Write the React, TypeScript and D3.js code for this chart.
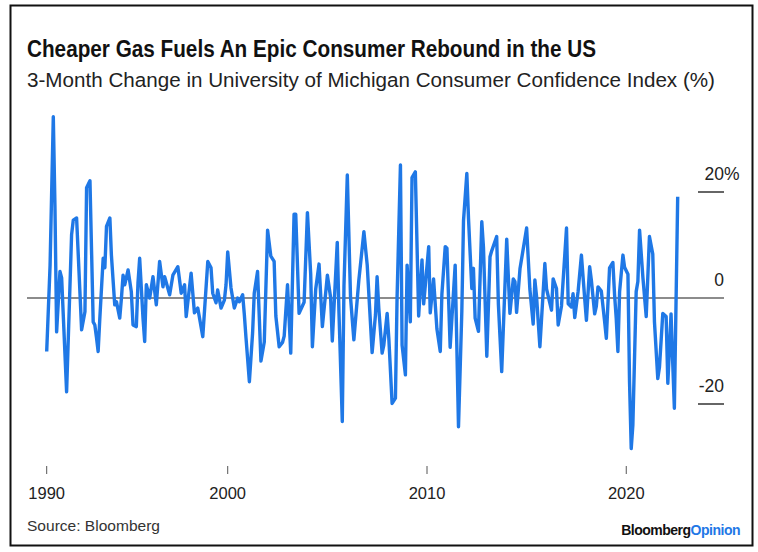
import React from "react";
import * as d3 from "d3";

const months = [
  "1990-12","1991-02","1991-04","1991-05","1991-06","1991-08","1991-09","1991-12",
  "1992-03","1992-04","1992-06","1992-09","1992-11","1992-12","1993-02","1993-04",
  "1993-05","1993-06","1993-07","1993-08","1993-10","1993-11","1993-12","1994-02",
  "1994-03","1994-05","1994-06","1994-08","1994-09","1994-10","1994-11","1995-01",
  "1995-03","1995-04","1995-06","1995-07","1995-08","1995-10","1995-11","1995-12",
  "1996-02","1996-04","1996-06","1996-08","1996-10","1996-11","1997-02","1997-04",
  "1997-07","1997-09","1997-11","1997-12","1998-03","1998-05","1998-07","1998-10",
  "1999-01","1999-03","1999-04","1999-06","1999-07","1999-09","1999-11","1999-12",
  "2000-01","2000-03","2000-05","2000-07","2000-08","2000-10","2000-11","2000-12",
  "2001-02","2001-04","2001-05","2001-07","2001-09","2001-11","2002-01","2002-03",
  "2002-05","2002-06","2002-08","2002-10","2002-11","2003-01","2003-03","2003-05",
  "2003-06","2003-08","2003-11","2004-01","2004-03","2004-04","2004-06","2004-08",
  "2004-10","2005-01","2005-03","2005-04","2005-07","2005-08","2005-10","2005-11",
  "2006-01","2006-03","2006-05","2006-08","2006-11","2007-01","2007-04","2007-06",
  "2007-07","2007-08","2007-10","2007-11","2008-01","2008-02","2008-04","2008-06",
  "2008-07","2008-09","2008-10","2008-12","2009-01","2009-03","2009-04","2009-06",
  "2009-08","2009-10","2009-11","2010-02","2010-03","2010-05","2010-07","2010-09",
  "2010-10","2010-12","2011-01","2011-03","2011-06","2011-08","2011-10","2011-11",
  "2012-01","2012-02","2012-04","2012-05","2012-06","2012-08","2012-10","2012-11",
  "2013-01","2013-03","2013-04","2013-07","2013-08","2013-10","2014-01","2014-02",
  "2014-03","2014-05","2014-06","2014-07","2014-09","2015-01","2015-03","2015-05",
  "2015-06","2015-07","2015-09","2015-12","2016-01","2016-04","2016-05","2016-07",
  "2016-08","2016-10","2017-01","2017-02","2017-04","2017-05","2017-06","2017-08",
  "2017-10","2017-12","2018-01","2018-03","2018-04","2018-06","2018-07","2018-08",
  "2018-10","2018-12","2019-01","2019-03","2019-05","2019-06","2019-07","2019-08",
  "2019-09","2019-11","2019-12","2020-02","2020-03","2020-04","2020-05","2020-07",
  "2020-08","2020-09","2020-11","2021-01","2021-03","2021-05","2021-06","2021-08",
  "2021-09","2021-11","2022-01","2022-02","2022-04","2022-05","2022-06","2022-08",
];

const changes = [
  -10.1, 6.2, 34.2, 17.5, -6.4, 5.0, 3.8, -17.7,
  11.9, 14.7, 15.1, -6.0, -2.6, 20.8, 22.1, -4.5,
  -5.1, -7.5, -10.1, -3.8, 7.5, 5.7, 13.5, 15.1,
  8.1, -1.3, -0.7, -3.8, 0.0, 4.3, 2.5, 5.3,
  1.2, -5.1, -5.4, 2.8, 7.5, -3.8, -8.2, 2.5,
  0.0, 4.0, -1.3, 6.9, 2.1, 4.0, 0.6, 4.3,
  5.9, 0.9, 2.5, -3.5, 4.7, -2.8, -1.9, -7.3,
  6.9, 5.7, 0.9, -0.9, 1.5, -1.9, -0.4, 2.5,
  8.7, 1.9, -1.9, 0.0, -0.7, 0.6, -3.2, -7.5,
  -15.8, -6.6, 0.9, 5.0, -11.9, -8.3, 12.8, 7.9,
  6.9, -3.4, -9.2, -8.4, -7.2, 2.5, -10.4, 15.8,
  15.8, -2.9, -0.8, 16.1, 4.5, -9.2, 1.7, 6.4,
  -5.4, 4.3, 0.1, -8.1, 10.5, -2.7, -23.3, 2.3,
  23.2, 0.1, -7.9, 3.4, 12.5, 6.2, -10.3, -3.2,
  4.0, -1.9, -10.4, -8.9, -2.9, -7.6, -19.9, -18.9,
  0.0, 25.1, -8.9, -14.5, 6.2, -4.5, 22.7, 23.8,
  -3.4, 7.2, -1.1, 9.7, -2.8, 3.6, -5.8, -10.1,
  0.8, 9.7, 9.4, -9.3, 6.2, -24.3, -2.6, 14.6,
  23.5, 14.9, 1.8, 5.6, -3.8, -6.3, 14.4, 9.5,
  -11.0, 7.8, 8.9, 11.6, -1.1, -13.9, 11.1, 3.7,
  -2.9, 3.6, 3.1, -2.7, 5.5, 13.2, 1.7, -4.9,
  3.4, 0.4, -9.2, 6.5, 1.7, -2.3, 3.6, 1.8,
  -5.1, -1.5, 13.2, -1.1, -1.7, 0.8, -3.7, 1.2,
  8.1, -0.2, -4.2, 5.9, 3.4, -3.0, -1.6, 2.1,
  1.3, -4.5, -7.6, 5.7, 6.7, 0.6, -3.8, -10.1,
  1.2, 8.1, 5.8, 4.5, -15.8, -28.4, -24.0, 1.2,
  3.1, 12.8, 3.9, -3.5, 11.6, 8.3, -4.5, -15.2,
  -13.0, -2.9, -3.5, -16.1, -3.0, -12.0, -20.8, 19.1,
];

const xTickDates = ["1990-12", "2000-01", "2010-01", "2020-01"];
const xTickLabels = ["1990", "2000", "2010", "2020"];
const yTickValues = [20, 0, -20];
const yTickLabels = ["20", "0", "-20"];

const title = "Cheaper Gas Fuels An Epic Consumer Rebound in the US";
const subtitle = "3-Month Change in University of Michigan Consumer Confidence Index (%)";
const source = "Source: Bloomberg";

const parse = d3.timeParse("%Y-%m");

export default function App() {
  const W = 758;
  const H = 552;
  const data = months.map((m, i) => ({ date: parse(m) as Date, value: changes[i] }));

  const x = d3
    .scaleTime()
    .domain([parse("1990-12") as Date, parse("2022-08") as Date])
    .range([46.7, 677.7]);
  const y = d3.scaleLinear().domain([-20, 20]).range([404, 192]);

  const line = d3
    .line<{ date: Date; value: number }>()
    .x((d) => x(d.date))
    .y((d) => y(d.value))
    .curve(d3.curveLinear);

  const font = "'Liberation Sans', Arial, Helvetica, sans-serif";
  const blue = "#1f78e6";

  return (
    <svg
      width={W}
      height={H}
      viewBox={`0 0 ${W} ${H}`}
      style={{ position: "absolute", left: 0, top: 0, background: "#fff" }}
      fontFamily={font}
    >
      <rect x={0} y={0} width={W} height={H} fill="#fff" />
      <rect x={10.5} y={5.5} width={742} height={540} fill="none" stroke="#111" strokeWidth={2} />

      <text x={27} y={57} fontSize={23} fontWeight="bold" fill="#111" textLength={569} lengthAdjust="spacingAndGlyphs">
        {title}
      </text>
      <text x={27} y={87} fontSize={20.5} fill="#222" textLength={688} lengthAdjust="spacingAndGlyphs">
        {subtitle}
      </text>

      {/* zero line */}
      <line x1={27} x2={724} y1={y(0)} y2={y(0)} stroke="#666" strokeWidth={1.5} />

      {/* y ticks */}
      {yTickValues.map((v, i) => (
        <g key={v}>
          {v !== 0 && (
            <line x1={698} x2={724} y1={y(v)} y2={y(v)} stroke="#333" strokeWidth={1.5} />
          )}
          <text x={724} y={y(v) - 12.5} fontSize={17.5} fill="#222" textAnchor="end">
            {yTickLabels[i]}
          </text>
          {i === 0 && (
            <text x={724} y={y(v) - 12.5} fontSize={17.5} fill="#222" textAnchor="start">
              %
            </text>
          )}
        </g>
      ))}

      {/* x ticks */}
      {xTickDates.map((d, i) => {
        const px = x(parse(d) as Date);
        return (
          <g key={d}>
            <line x1={px} x2={px} y1={466} y2={474} stroke="#555" strokeWidth={1} />
            <text x={px} y={499} fontSize={16.5} fill="#222" textAnchor="middle">
              {xTickLabels[i]}
            </text>
          </g>
        );
      })}

      <path d={line(data) || ""} fill="none" stroke={blue} strokeWidth={3.4} strokeLinejoin="round" />

      <text x={27} y={531} fontSize={15.5} fill="#333" textLength={133} lengthAdjust="spacingAndGlyphs">
        {source}
      </text>
      <text x={740} y={535} fontSize={14} fontWeight="bold" textAnchor="end" letterSpacing={-0.5}>
        <tspan fill="#111">Bloomberg</tspan>
        <tspan fill={blue}>Opinion</tspan>
      </text>
    </svg>
  );
}
